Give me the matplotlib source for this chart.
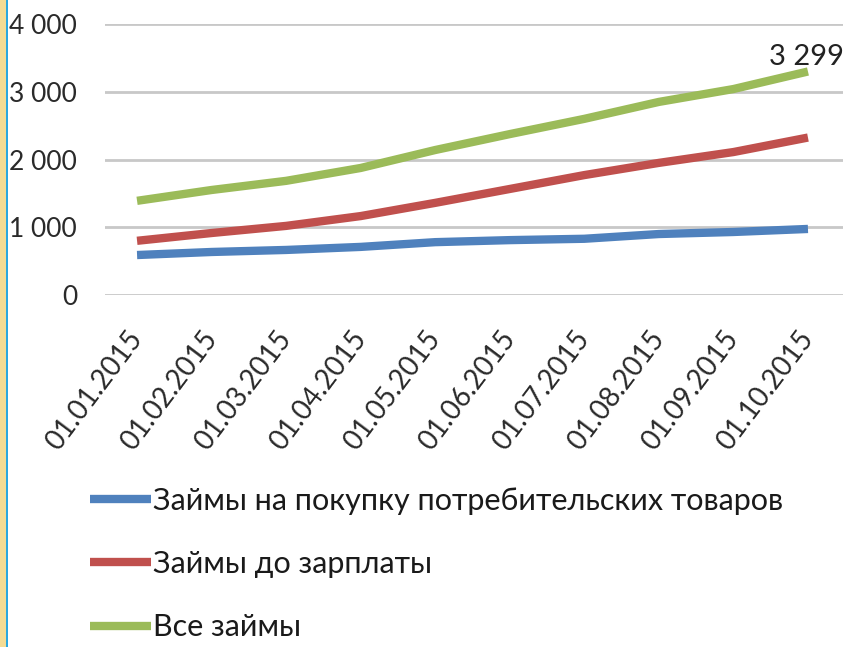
import matplotlib
matplotlib.use('Agg')
import matplotlib.pyplot as plt
from matplotlib.patches import Rectangle
from matplotlib.ticker import FuncFormatter

plt.rcParams['font.family'] = ['Lato', 'Roboto', 'DejaVu Sans']

dates = ["01.01.2015", "01.02.2015", "01.03.2015", "01.04.2015", "01.05.2015",
         "01.06.2015", "01.07.2015", "01.08.2015", "01.09.2015", "01.10.2015"]
consumer = [590, 635, 665, 710, 780, 810, 830, 900, 930, 975]
payday = [800, 915, 1020, 1165, 1360, 1565, 1770, 1950, 2110, 2324]
total = [1390, 1550, 1685, 1875, 2140, 2375, 2600, 2850, 3040, 3299]
names = ["Займы на покупку потребительских товаров", "Займы до зарплаты", "Все займы"]
yticks = [0, 1000, 2000, 3000, 4000]

W, H = 846, 647
fig = plt.figure(figsize=(W / 100, H / 100), dpi=100)
ax = fig.add_axes([105 / W, 1 - 295 / H, (843 - 105) / W, (295 - 24) / H])

x = list(range(len(dates)))
l1, = ax.plot(x, consumer, color='#4f81bd', lw=6, solid_capstyle='butt')
l2, = ax.plot(x, payday, color='#c0504d', lw=6, solid_capstyle='butt')
l3, = ax.plot(x, total, color='#9bbb59', lw=6, solid_capstyle='butt')

ax.annotate("{:,}".format(total[-1]).replace(",", " "), (x[-1], total[-1]),
            xytext=(-1, 1), textcoords='offset points', ha='center', va='bottom',
            fontsize=21, color='#222222')

ax.set_xlim(-0.43, 9.47)
ax.set_ylim(0, 4000)
ax.set_yticks(yticks)
ax.yaxis.set_major_formatter(FuncFormatter(lambda v, p: "{:,}".format(int(v)).replace(",", " ")))
ax.grid(axis='y', color='#c8c8c8', lw=2)
ax.set_axisbelow(True)
for s in ax.spines.values():
    s.set_visible(False)

ax.set_xticks(x)
ax.set_xticklabels(dates, rotation=53, ha='right', va='center', rotation_mode='anchor')
ax.tick_params(axis='x', length=0, pad=28, labelsize=20, labelcolor='#2a2a2a')
ax.tick_params(axis='y', length=0, pad=20, labelsize=19, labelcolor='#2a2a2a')

fig.legend([l1, l2, l3], names, loc='upper left', bbox_to_anchor=(90 / W, 1 - 487 / H),
           frameon=False, fontsize=22, handlelength=2.0, handletextpad=0.05,
           labelspacing=1.15, borderaxespad=0, borderpad=0, labelcolor='#1a1a1a')

# left frame decoration
fig.add_artist(Rectangle((0, 0), 6 / W, 1, transform=fig.transFigure, color='#f3dc95', lw=0))
fig.add_artist(Rectangle((6 / W, 0), 2 / W, 1, transform=fig.transFigure, color='#2aa8e0', lw=0))

fig.savefig('out.png', dpi=100)
